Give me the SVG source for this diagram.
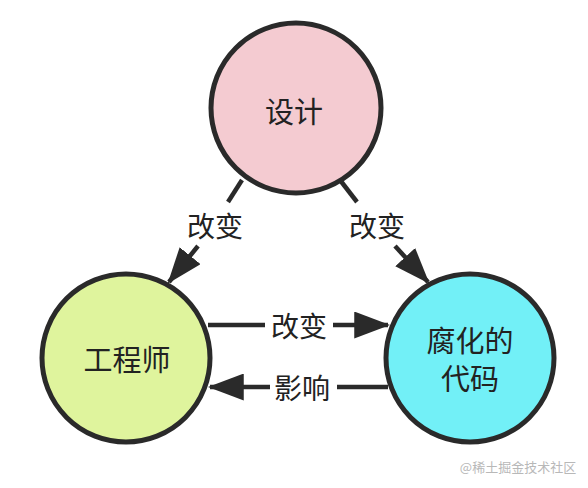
<svg xmlns="http://www.w3.org/2000/svg" width="588" height="488" viewBox="0 0 588 488">
<defs>
<style>
.node{stroke:#2a2a2a;stroke-width:5}
.t{font-family:"Noto Sans CJK SC","Noto Sans",sans-serif;fill:#222;text-anchor:middle;dominant-baseline:central}
.nt{font-size:29px}
.lt{font-size:28px}
.ln{stroke:#2a2a2a;stroke-width:4.5;fill:none}
</style>
<marker id="ah" markerWidth="8" markerHeight="6" refX="7.5" refY="3" orient="auto" markerUnits="strokeWidth">
<path d="M0,0 L8,3 L0,6 Z" fill="#2a2a2a"/>
</marker>
</defs>
<rect width="588" height="488" fill="#ffffff"/>
<g id="connectors">
<line class="ln" x1="242" y1="180" x2="228" y2="202"/>
<line class="ln" x1="198" y1="246" x2="169" y2="282" marker-end="url(#ah)"/>
<text class="t lt" x="215" y="225">改变</text>
<line class="ln" x1="340" y1="180" x2="357" y2="202"/>
<line class="ln" x1="395" y1="246" x2="428" y2="282" marker-end="url(#ah)"/>
<text class="t lt" x="377" y="225">改变</text>
<line class="ln" x1="208" y1="325" x2="265" y2="325"/>
<line class="ln" x1="333" y1="325" x2="388" y2="325" marker-end="url(#ah)"/>
<text class="t lt" x="299" y="325">改变</text>
<line class="ln" x1="388" y1="387" x2="337" y2="387"/>
<line class="ln" x1="270" y1="387" x2="210" y2="387" marker-end="url(#ah)"/>
<text class="t lt" x="302" y="387">影响</text>
</g>
<g id="design">
<circle class="node" cx="296" cy="108" r="85" fill="#f4cbd1"/>
<text class="t nt" x="294" y="110">设计</text>
</g>
<g id="engineer">
<circle class="node" cx="126" cy="358" r="84" fill="#dff49d"/>
<text class="t nt" x="127" y="358">工程师</text>
</g>
<g id="code">
<circle class="node" cx="470" cy="358" r="84" fill="#72f0f7"/>
<text class="t nt" x="470" y="339">腐化的</text>
<text class="t nt" x="470" y="377">代码</text>
</g>
<text x="518" y="466" font-family="Noto Sans CJK SC,sans-serif" font-size="13" fill="#b8b8b8" text-anchor="middle" dominant-baseline="central">@稀土掘金技术社区</text>
</svg>
